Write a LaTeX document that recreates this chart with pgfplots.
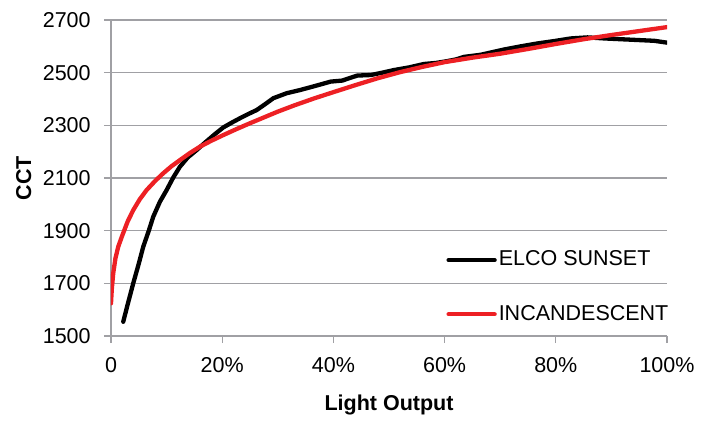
\documentclass[border=0pt]{standalone}
\usepackage{pgfplots}
\pgfplotsset{compat=1.18}
\usepackage{fontspec}
\setmainfont{Liberation Sans}
\definecolor{gridgray}{RGB}{160,160,164}
\definecolor{incred}{RGB}{237,32,36}
\begin{document}
\fontsize{21.5bp}{25bp}\selectfont
\begin{tikzpicture}
\begin{axis}[
  scale only axis,
  width=556bp, height=316bp,
  xmin=0, xmax=100, ymin=1500, ymax=2700,
  xtick={0,20,40,60,80,100},
  xticklabels={0,20\%,40\%,60\%,80\%,100\%},
  ytick={1500,1700,1900,2100,2300,2500,2700},
  axis x line*=bottom, axis y line*=left,
  axis line style={gridgray, line width=1.2bp},
  tick style={gridgray, line width=1.2bp},
  tick align=outside,
  major tick length=7bp,
  ymajorgrids,
  grid style={gridgray, line width=1.2bp},
  /pgf/number format/assume math mode=true,
  /pgf/number format/1000 sep={},
  tick label style={font=\fontsize{21.5bp}{25bp}\selectfont},
  xticklabel style={yshift=-7bp},
  yticklabel style={xshift=-6bp},
  xlabel={\bfseries Light Output},
  ylabel={\bfseries CCT},
  label style={font=\fontsize{21.5bp}{25bp}\selectfont},
  xlabel style={yshift=-8bp},
  ylabel style={yshift=-3bp},
  legend style={draw=none, fill=none, at={(rel axis cs:0.603,0.276)}, anchor=north west,
    row sep=32bp, font=\fontsize{21.5bp}{25bp}\selectfont, inner sep=0pt,
    /tikz/every even column/.append style={column sep=0pt}},
  legend cell align=left,
  legend image code/.code={\draw[#1] (0bp,0bp) -- (46bp,0bp);},
]
\addplot[black, line width=4.3bp, line join=round, line cap=round] coordinates {
(2.2,1554) (3.0,1620) (4.0,1700) (5.0,1775) (5.8,1839) (6.8,1900) (7.6,1953) (8.8,2010)
(10.0,2054) (11.2,2102) (12.4,2143) (13.8,2178) (15.4,2206) (17.0,2236) (18.6,2265)
(20.2,2292) (21.7,2310) (23.2,2327) (24.7,2343) (26.2,2358) (27.7,2380) (29.2,2403)
(31.6,2422) (34.0,2434) (36.8,2450) (39.5,2466) (41.6,2470) (43.0,2480) (44.3,2489)
(46.7,2491) (48.8,2500) (50.9,2510) (53.6,2520) (56.3,2533) (58.5,2537) (60.5,2544)
(62.0,2550) (63.5,2560) (66.5,2568) (70.7,2588) (73.7,2600) (76.7,2611) (79.7,2620)
(82.7,2630) (85.7,2634) (88.7,2630) (91.7,2627) (94.7,2624) (97.7,2621) (100,2614)
};
\addlegendentry{ELCO SUNSET}
\addplot[incred, line width=4.3bp, line join=round, line cap=round] coordinates {
(0,1624) (0.15,1680) (0.4,1738) (0.8,1795) (1.3,1839) (2.0,1880) (3.0,1935) (4.0,1978)
(5.2,2020) (6.4,2054) (7.9,2088) (9.4,2118) (10.9,2145) (12.4,2168) (14.2,2195)
(16.0,2219) (18.1,2242) (20.2,2263) (22.6,2286) (25.0,2308) (27.5,2330) (30,2352)
(33,2376) (36.5,2402) (40,2426) (44,2453) (48,2479) (52,2502) (56,2522) (60,2540)
(65,2557) (70,2572) (75,2590) (80,2609) (85,2627) (90,2643) (95,2658) (100,2673)
};
\addlegendentry{INCANDESCENT}
\coordinate (O) at (rel axis cs:0,0);
\end{axis}
\useasboundingbox (O) ++(-111bp,-81bp) rectangle ++(705bp,417bp);
\end{tikzpicture}
\end{document}
